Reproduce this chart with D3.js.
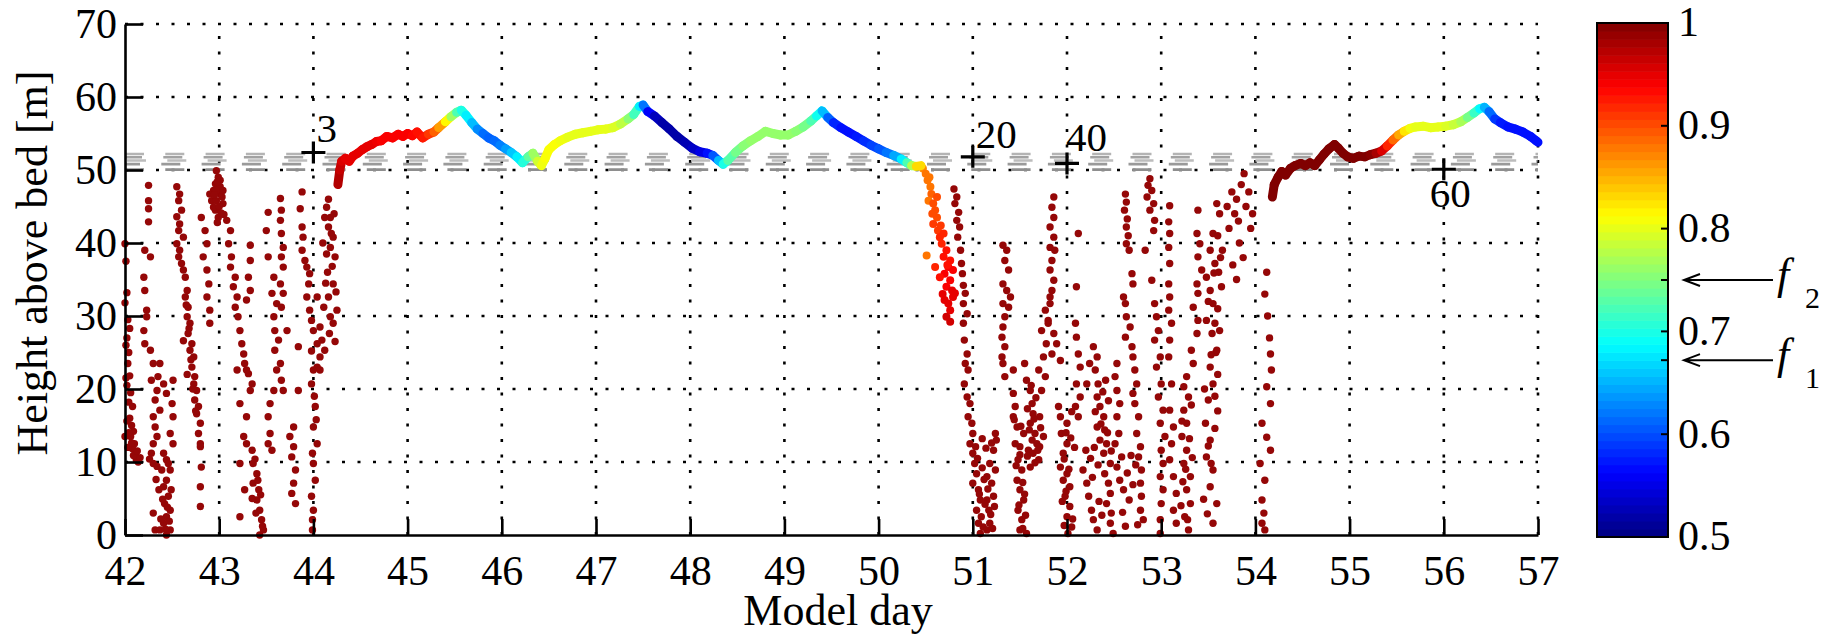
<!DOCTYPE html>
<html>
<head>
<meta charset="utf-8">
<script src="https://cdn.jsdelivr.net/npm/d3@7"></script>
<style>
  body { margin: 0; background: #fff; }
  svg text { font-family: "Liberation Serif", "Times New Roman", serif; fill: #000; }
</style>
</head>
<body>
<svg id="chart" width="1832" height="635"></svg>
<script>
// ---- data ----
var xTicks = d3.range(42, 58);            // model day
var yTicks = d3.range(0, 71, 10);         // height above bed [m]
var cbLabels = [0.5, 0.6, 0.7, 0.8, 0.9, 1];
var cbExtraTicks = [0.6, 0.7, 0.8, 0.9];
var arrowValues = [0.75, 0.672];
var arrowNames = ["2", "1"];

// grey dashed reference levels
var refHeights = [52.2, 51.75, 51.3, 50.8, 50.05];

// labelled positions
var markerDays = [44, 51, 52, 56];
var markerHeights = [52.4, 51.8, 50.9, 50.1];
var markerLabels = ["3", "20", "40", "60"];

// trace near the top: [day, height, value]
var traceA = [
  [44.26,48.0,0.98],[44.28,50.0,0.97],[44.30,51.2,0.96],[44.34,51.6,0.95],[44.38,51.2,0.95],
  [44.42,51.9,0.95],[44.47,52.3,0.95],[44.52,52.8,0.95],[44.57,53.2,0.95],[44.62,53.5,0.95],
  [44.67,53.9,0.95],[44.72,54.0,0.94],[44.78,54.6,0.94],[44.84,54.4,0.94],[44.9,54.9,0.94],
  [44.95,54.6,0.94],[45.0,55.0,0.94],[45.05,54.7,0.94],[45.1,55.2,0.93],[45.16,54.4,0.93],
  [45.22,54.9,0.92],[45.28,55.2,0.9],[45.33,55.8,0.88],[45.4,56.6,0.84],[45.46,57.3,0.79],
  [45.52,57.9,0.74],[45.57,58.2,0.71],[45.62,57.5,0.69],[45.68,56.5,0.67],[45.74,55.6,0.64],
  [45.8,55.0,0.62],[45.86,54.4,0.61],[45.92,54.0,0.61],[45.98,53.4,0.62],[46.04,52.9,0.63],
  [46.1,52.4,0.65],[46.16,51.8,0.67],[46.22,51.0,0.69],[46.28,51.8,0.72],[46.33,52.3,0.75],
  [46.38,51.2,0.78],[46.42,50.6,0.8],[46.46,51.6,0.81],[46.5,52.8,0.81],[46.56,53.5,0.81],
  [46.62,54.0,0.81],[46.7,54.5,0.8],[46.78,54.9,0.8],[46.86,55.1,0.8],[46.94,55.3,0.8],
  [47.02,55.5,0.8],[47.1,55.6,0.8],[47.18,55.8,0.8],[47.26,56.3,0.79],[47.34,57.0,0.77],
  [47.4,57.6,0.74],[47.46,58.7,0.7],[47.5,58.9,0.66],[47.55,58.0,0.58],[47.62,57.4,0.54],
  [47.7,56.5,0.52],[47.78,55.6,0.52],[47.86,54.6,0.52],[47.94,53.8,0.52],[48.02,53.0,0.53],
  [48.1,52.5,0.54],[48.18,52.3,0.56],[48.24,52.0,0.58],[48.3,51.3,0.63],[48.35,50.8,0.68],
  [48.4,51.3,0.72],[48.48,52.4,0.74],[48.56,53.3,0.75],[48.64,54.0,0.76],[48.72,54.6,0.76],
  [48.8,55.3,0.76],[48.88,55.0,0.76],[48.96,54.8,0.76],[49.04,54.8,0.76],[49.12,55.3,0.76],
  [49.2,55.9,0.75],[49.28,56.7,0.74],[49.34,57.4,0.71],[49.4,58.1,0.68],[49.46,57.2,0.63],
  [49.52,56.5,0.59],[49.6,55.8,0.57],[49.68,55.2,0.57],[49.76,54.6,0.57],[49.84,54.0,0.58],
  [49.92,53.4,0.59],[50.0,52.9,0.6],[50.08,52.4,0.61],[50.16,52.0,0.63],[50.24,51.5,0.66],
  [50.3,51.0,0.7],[50.35,50.6,0.75],[50.4,50.5,0.8],[50.45,50.6,0.86]
];
var traceB = [
  [54.18,46.3,1],[54.2,48.0,1],[54.24,49.0,1],[54.28,49.8,1],[54.32,49.3,1],[54.37,50.2,1],
  [54.42,50.6,1],[54.48,50.9,1],[54.53,50.6,1],[54.58,51.0,1],[54.63,50.6,1],[54.68,51.4,1],
  [54.73,52.2,1],[54.78,52.9,1],[54.84,53.5,1],[54.88,53.0,1],[54.93,52.3,1],[54.98,51.8,1],
  [55.04,51.6,1],[55.1,51.9,1],[55.16,51.8,1],[55.22,52.1,1],[55.28,52.3,0.99],[55.34,52.6,0.97],
  [55.4,53.3,0.94],[55.46,54.1,0.9],[55.52,54.8,0.87],[55.58,55.3,0.84],[55.64,55.7,0.81],
  [55.7,55.9,0.8],[55.78,56.0,0.8],[55.86,55.8,0.8],[55.94,55.9,0.8],[56.02,56.0,0.8],
  [56.1,56.2,0.79],[56.18,56.6,0.78],[56.25,57.2,0.76],[56.32,57.8,0.73],[56.38,58.4,0.7],
  [56.43,58.6,0.67],[56.48,58.0,0.63],[56.54,57.0,0.6],[56.6,56.5,0.58],[56.68,55.9,0.57],
  [56.76,55.6,0.57],[56.84,55.2,0.57],[56.92,54.6,0.57],[56.98,54.0,0.57],[57.0,53.8,0.57]
];
// coloured points of the descent after day 50.4: [day, height, value]
var descent = [
  [50.47,50.2,0.87],[50.5,49.5,0.88],[50.52,48.6,0.88],[50.55,47.7,0.88],[50.56,46.7,0.89],
  [50.53,45.8,0.88],[50.58,45.4,0.9],[50.62,46.3,0.9],[50.6,44.5,0.9],[50.62,43.5,0.9],
  [50.58,42.6,0.91],[50.63,41.7,0.91],[50.65,40.8,0.92],[50.69,41.3,0.92],[50.67,39.9,0.92],
  [50.72,39.0,0.93],[50.69,38.1,0.93],[50.76,37.6,0.93],[50.74,36.7,0.94],[50.7,35.8,0.94],
  [50.79,36.3,0.94],[50.76,34.9,0.94],[50.72,34.0,0.94],[50.78,33.5,0.95],[50.79,32.6,0.95],
  [50.7,32.2,0.95],[50.74,31.7,0.95],[50.76,30.8,0.95],[50.72,29.9,0.96],[50.76,29.2,0.96],
  [50.51,38.3,0.88],[50.6,36.7,0.92],[50.65,35.3,0.93],[50.81,33.1,0.95],
  [50.54,49.0,0.88],[50.57,44.0,0.9],[50.66,42.4,0.91],[50.73,37.0,0.93],[50.68,33.0,0.95]
];
// dark red points (value 1): [day, height]
var scatterEarly = [
  [42.0,39.9],[42.01,37.5],[42.02,33.2],[42.0,31.8],[42.03,29.5],[42.02,27.0],[42.04,25.0],[42.03,23.5],[42.05,21.8],[42.02,20.5],[42.06,19.5],[42.04,18.2],[42.08,17.6],[42.05,16.0],[42.07,15.0],[42.09,14.2],[42.06,13.5],[42.1,12.5],[42.08,11.8],[42.11,11.0],[42.12,10.3],[42.14,10.0],[42.0,13.5],[42.01,21.5],[42.03,12.0],
  [42.25,47.9],[42.25,45.8],[42.25,44.7],[42.25,42.9],[42.21,39.0],[42.27,38.1],[42.2,35.3],[42.21,33.5],[42.23,30.8],[42.23,29.9],[42.2,28.0],[42.21,26.2],[42.27,25.3],[42.3,23.5],[42.35,21.7],[42.28,21.2],[42.34,19.8],[42.32,18.5],[42.37,17.1],[42.3,16.2],[42.32,14.8],[42.34,13.5],[42.3,12.5],[42.28,11.2],[42.3,9.8],[42.34,9.4],[42.39,8.9],[42.3,3.0],[42.32,0.7],
  [42.37,23.5],[42.41,20.7],[42.51,21.2],[42.44,19.4],[42.5,18.0],[42.51,16.2],[42.48,13.9],[42.51,12.5],[42.41,11.2],[42.44,10.3],[42.48,8.9],[42.44,7.5],[42.41,6.6],[42.46,5.3],[42.42,4.3],[42.48,3.4],[42.44,2.5],[42.41,1.6],[42.48,0.7],[42.44,0.0],[42.37,0.7],
  [42.55,47.7],[42.58,46.7],[42.57,45.8],[42.6,44.5],[42.55,43.6],[42.58,42.6],[42.57,41.7],[42.62,40.8],[42.55,39.9],[42.58,39.0],[42.57,38.1],[42.6,37.2],[42.62,36.3],[42.64,35.3],[42.66,33.5],[42.64,32.6],[42.67,31.2],[42.66,29.9],[42.69,29.0],[42.67,27.6],[42.71,26.2],[42.69,25.3],[42.73,24.4],[42.71,23.0],[42.74,21.7],[42.73,20.7],[42.76,19.8],[42.74,18.5],[42.78,17.6],[42.76,16.6],[42.8,15.3],[42.78,13.9],[42.8,12.5],
  [42.81,43.5],[42.85,41.7],[42.87,39.9],[42.83,38.1],[42.87,36.3],[42.89,34.4],[42.87,32.6],[42.9,30.8],[42.9,29.0],[42.8,12.1],[42.81,9.3],[42.8,6.6],[42.8,3.9],
  [42.97,49.9],[42.99,49.0],[42.96,48.1],[43.01,48.6],[42.94,47.2],[43.01,46.7],[42.92,45.8],[42.97,45.8],[43.04,45.4],[42.96,44.5],[43.01,47.7],[43.03,46.3],[42.9,46.7],[42.99,43.5],[42.97,47.2],[42.94,44.9],[43.04,47.2],
  [43.08,43.1],[43.12,41.7],[43.1,39.9],[43.13,38.1],[43.12,36.7],[43.17,35.3],[43.15,34.0],[43.19,32.6],[43.17,31.2],[43.2,29.9],[43.22,28.0],[43.24,26.2],[43.26,24.8],[43.27,23.5],[43.31,22.1],[43.35,20.7],[43.33,19.8],[43.29,22.6],[43.19,22.6],
  [43.22,18.0],[43.29,16.2],[43.26,13.5],[43.29,12.5],[43.35,11.6],[43.36,9.8],[43.4,8.4],[43.36,7.1],[43.42,6.2],[43.4,4.8],[43.43,3.4],[43.45,2.1],[43.47,0.7],[43.43,0.0],[43.22,9.8],[43.27,6.2],[43.22,2.5],
  [43.33,39.7],[43.33,37.6],[43.31,35.3],[43.33,33.5],[43.29,32.2],
  [43.52,44.2],[43.5,41.7],[43.52,38.1],[43.58,35.3],[43.56,33.1],[43.61,31.7],[43.58,29.9],[43.59,28.0],[43.63,26.7],[43.59,25.3],[43.65,23.5],[43.61,22.6],[43.66,21.2],[43.68,19.8],[43.58,19.8],[43.54,18.0],[43.52,16.2],[43.54,13.9],[43.52,12.5],[43.56,11.6],
  [43.65,46.1],[43.66,44.5],[43.65,43.1],[43.66,41.3],[43.68,39.4],[43.66,38.1],[43.68,36.7],[43.65,34.4],[43.68,33.1],[43.66,31.2],
  [43.79,14.8],[43.75,13.5],[43.79,12.1],[43.77,10.7],[43.81,8.9],[43.79,7.1],[43.77,5.7],[43.81,4.3],[43.84,25.8],[43.84,19.8],[43.72,28.0],
  [43.88,47.0],[43.86,44.7],[43.88,42.2],[43.89,40.8],[43.88,39.0],[43.91,37.6],[43.93,36.7],[43.96,35.8],[43.95,34.4],[43.93,32.6],[43.96,30.8],[43.98,29.4],[44.0,28.0],[44.04,26.2],[44.07,24.4],[44.0,22.6],[44.04,23.0],[43.98,20.7],[44.02,17.6],[44.0,14.8],[44.04,12.5],[44.0,9.8],[44.02,7.5],[43.98,5.3],[44.0,3.4],[43.99,2.1],[43.99,0.7],
  [44.14,44.9],[44.18,43.5],[44.16,42.2],[44.21,40.8],[44.18,39.4],[44.23,38.1],[44.14,38.5],[44.21,34.4],[44.16,32.6],[44.11,31.2],[44.18,29.9],[44.21,29.0],[44.25,30.8],[44.07,28.5],[44.09,26.7],[44.12,25.3],[44.07,22.6],[44.04,32.6],[44.19,41.3],[44.12,43.5]
];
var scatterLate = [
  [50.8,47.4],[50.83,46.3],[50.81,45.4],[50.85,44.2],[50.83,43.1],[50.86,42.2],[50.84,40.8],[50.87,39.0],[50.88,37.2],[50.89,35.8],[50.9,34.2],[50.92,33.1],[50.9,31.7],[50.94,30.3],[50.9,29.0],[50.91,26.7],[50.94,24.8],[50.92,23.5],[50.95,22.6],[50.91,20.7],[50.94,18.9],[50.97,18.0],[50.95,16.2],[50.99,15.3],[51.0,13.9],[50.97,12.5],[51.0,11.2],[51.02,9.8],[51.04,8.4],[51.0,7.1],[51.06,6.2],[51.08,4.8],[51.04,3.4],[51.09,2.5],[51.11,1.1],[51.08,0.2],[51.15,0.7],[51.18,1.6],[51.17,3.4],[51.22,5.3],[51.2,7.1],[51.15,8.0],[51.24,8.9],[51.18,9.8],[51.22,11.6],[51.25,13.0],[51.24,13.9],[51.15,4.8],
  [51.32,39.7],[51.36,39.0],[51.34,37.6],[51.38,36.3],[51.32,34.4],[51.36,33.5],[51.4,32.6],[51.32,31.7],[51.38,31.2],[51.34,29.9],[51.32,28.5],[51.31,27.1],[51.34,25.8],[51.31,24.4],[51.32,23.5],[51.43,22.6],[51.34,21.7],
  [51.43,19.4],[51.45,17.6],[51.43,16.2],[51.47,14.8],[51.54,13.9],[51.5,12.1],[51.48,10.3],[51.52,8.9],[51.47,7.5],[51.5,6.2],[51.54,4.8],[51.48,3.4],[51.52,2.1],[51.5,0.7],[51.57,0.2],[51.45,12.5],
  [51.55,23.5],[51.57,21.2],[51.61,19.8],[51.63,18.0],[51.64,16.6],[51.61,15.3],[51.66,13.9],[51.63,13.0],[51.68,12.5],[51.59,11.6],[51.64,11.2],[51.7,10.3],[51.61,9.3],[51.71,12.1],[51.75,13.5],[51.71,16.2],[51.73,19.8],[51.77,21.7],[51.7,22.6],[51.75,24.4],[51.78,26.2],[51.73,28.0],[51.8,29.0],[51.77,30.8],[51.82,32.6],
  [51.86,46.3],[51.84,44.9],[51.86,43.5],[51.82,42.2],[51.86,40.8],[51.82,39.4],[51.87,39.0],[51.84,37.6],[51.82,36.3],[51.86,34.9],[51.84,33.5],[51.82,31.7],[51.8,29.4],[51.86,27.6],[51.89,26.2],[51.84,24.8],[51.93,23.9],
  [51.91,17.6],[51.93,16.2],[52.0,15.3],[51.94,13.9],[52.0,12.5],[51.96,11.2],[51.93,9.3],[52.0,8.4],[51.96,7.5],[52.03,6.6],[51.98,5.3],[52.03,3.9],[52.0,2.5],[52.05,1.1],[52.01,0.2],
  [52.1,34.0],[52.12,41.3],[52.09,29.0],[52.1,27.1],[52.12,24.8],[52.14,23.0],[52.1,20.7],[52.14,18.9],[52.09,17.6],[52.12,16.2],
  [52.17,8.9],[52.21,7.1],[52.23,5.3],[52.26,3.4],[52.28,2.1],[52.32,0.7],[52.28,25.8],[52.32,24.4],[52.3,22.6],[52.33,20.7],[52.32,18.9],[52.35,17.6],[52.39,16.2],[52.32,14.8],[52.4,14.4],[52.35,13.0],[52.42,12.5],[52.39,11.2],[52.46,9.8],[52.4,8.4],[52.44,7.1],[52.46,5.7],[52.42,4.3],[52.47,3.0],[52.46,1.6],[52.49,0.2],[52.24,23.5],[52.21,20.7],
  [52.53,23.5],[52.51,21.7],[52.53,19.8],[52.56,18.0],[52.53,16.2],[52.55,13.9],[52.51,12.5],[52.58,10.7],[52.53,9.3],[52.56,7.5],[52.6,6.2],
  [52.62,46.7],[52.63,45.6],[52.61,44.5],[52.64,43.3],[52.63,42.2],[52.65,41.0],[52.63,39.9],[52.66,39.0],[52.69,35.8],[52.7,34.4],[52.6,32.6],[52.62,31.7],[52.63,29.9],[52.67,28.5],[52.62,27.1],[52.69,25.8],[52.7,24.4],[52.72,22.6],[52.74,20.7],[52.7,19.4],[52.72,18.0],[52.76,16.2],[52.74,13.9],[52.78,12.1],[52.76,10.7],[52.79,8.9],[52.78,7.1],[52.79,5.3],[52.78,3.4],[52.81,2.1],
  [52.88,48.8],[52.86,47.9],[52.9,47.2],[52.85,46.3],[52.92,45.4],[52.88,44.5],[52.93,43.1],[52.92,41.7],[52.83,39.0],[52.9,34.9],[52.93,31.7],[52.95,29.9],[52.97,28.0],[52.93,26.7],[52.99,24.4],[52.95,23.0],[53.0,20.7],[52.97,18.9],[53.02,17.1],[52.99,15.3],[53.04,13.5],[53.0,11.6],[53.02,9.8],[52.99,8.0],[53.02,6.2],[53.0,4.3],[52.99,2.1],[52.99,0.2],
  [53.09,45.1],[53.08,42.9],[53.09,41.3],[53.08,39.4],[53.09,37.2],[53.08,34.4],[53.09,32.6],[53.08,30.8],[53.11,29.0],[53.09,26.7],[53.08,24.4],[53.11,20.7],[53.09,17.1],[53.13,14.8],[53.11,12.5],[53.09,10.3],[53.13,8.0],[53.16,5.7],[53.13,3.4],[53.16,1.6],
  [53.39,44.5],[53.38,41.3],[53.41,39.9],[53.39,38.1],[53.43,36.3],[53.38,34.4],[53.39,33.1],[53.34,31.2],[53.39,29.4],[53.38,27.6],[53.32,25.3],[53.34,23.5],[53.27,21.7],[53.24,20.3],[53.29,18.9],[53.24,17.1],[53.27,15.3],[53.22,13.5],[53.27,11.6],[53.24,9.8],[53.31,8.0],[53.27,6.2],[53.31,4.3],[53.25,2.5],[53.29,0.7],
  [53.59,45.4],[53.55,41.3],[53.52,39.0],[53.57,37.2],[53.48,35.3],[53.52,33.5],[53.55,31.7],[53.48,29.4],[53.54,27.6],[53.59,25.3],[53.52,23.0],[53.55,20.7],[53.5,18.5],[53.47,15.3],[53.52,13.0],[53.48,10.7],[53.55,8.9],[53.52,6.6],[53.59,4.3],[53.55,1.6],
  [53.62,44],[53.6,41],[53.63,38],[53.61,36],[53.64,34],[53.6,31],[53.62,28],[53.58,25],[53.6,22],[53.57,19],[53.6,17],[53.65,39],[53.7,45],[53.72,42],[53.75,47],[53.78,44],[53.8,46],[53.82,43],[53.85,48],[53.88,49.5],[53.9,45],[53.93,47],[53.95,42],[53.97,44],[53.83,40],[53.87,38],[53.76,37],[53.8,35],
  [54.12,36],[54.1,33],[54.13,30],[54.15,27],[54.16,24.8],[54.17,22.6],[54.12,20.3],[54.16,18.0],[54.07,15.3],[54.12,13.4],[54.16,11.6],[54.05,9.8],[54.1,7.5],[54.07,4.8],[54.09,3.0],[54.07,1.6],[54.1,0.7]
];
// further points in the densest clusters: [day, height]
var scatterDense = [
  [42.02,15.6],[42.04,14.0],[42.07,12.6],[42.09,10.9],[42.13,11.5],[42.16,10.6],[42.01,26.0],[42.05,28.3],
  [42.26,10.4],[42.33,7.6],[42.36,6.2],[42.4,4.9],[42.45,3.8],[42.47,1.9],[42.43,0.8],[42.38,2.2],[42.49,6.2],[42.46,9.8],
  [42.65,31.5],[42.68,28.3],[42.7,24.0],[42.72,20.0],[42.75,17.0],[42.62,26.6],[42.66,22.0],
  [42.98,48.4],[43.0,45.0],[42.95,46.6],[43.02,44.1],[42.98,42.8],[43.05,43.9],
  [43.38,10.4],[43.41,7.5],[43.44,5.5],[43.46,1.2],[43.39,3.0],[43.35,5.0],
  [43.98,25.2],[44.01,19.0],[44.03,15.8],[43.99,11.2],
  [44.15,36.0],[44.2,36.8],[44.13,34.5],[44.24,33.3],[44.17,27.6],[44.23,26.5],[44.1,40.0],[44.22,44.0],[44.16,46.0],
  [51.05,10.5],[51.1,9.2],[51.12,7.6],[51.07,5.6],[51.13,4.2],[51.19,2.8],[51.21,0.9],[51.1,13.2],[51.14,11.9],[51.2,12.6],[51.16,6.3],[51.23,3.9],[51.03,12.1],[51.06,1.6],
  [51.46,9.5],[51.5,11.0],[51.53,7.2],[51.55,5.6],[51.49,4.1],[51.56,2.7],[51.53,0.9],[51.58,10.8],[51.51,14.9],[51.44,15.8],
  [51.6,14.4],[51.65,15.9],[51.67,18.8],[51.62,20.5],[51.69,11.6],[51.66,9.9],[51.72,14.7],[51.58,17.3],
  [51.95,4.6],[51.99,6.0],[52.02,9.0],[51.97,10.4],[52.04,13.3],[51.99,14.0],[52.06,2.2],[51.97,1.3],[52.08,12.0],[52.05,16.9],
  [52.25,10.5],[52.29,12.0],[52.33,9.6],[52.36,15.2],[52.3,16.9],[52.38,19.6],[52.41,21.2],[52.44,18.4],[52.27,7.9],[52.34,4.6],[52.37,2.7],[52.43,14.0],[52.47,11.5],[52.2,11.6],
  [52.59,3.1],[52.62,1.2],[52.66,4.8],[52.7,6.9],[52.64,8.5],[52.68,10.9],[52.73,9.6],[52.75,1.4],
  [53.21,4.0],[53.23,7.3],[53.26,9.0],[53.3,13.2],[53.32,17.8],[53.28,2.1],[53.33,10.6],[53.22,15.6],
  [53.45,4.9],[53.49,2.9],[53.53,9.8],[53.5,12.2],[53.57,14.6],[53.46,20.0],[53.53,24.7],[53.57,29.0],[53.5,32.0],[53.56,35.9]
];

// ---- drawing ----
var svg = d3.select("#chart");

var x = d3.scaleLinear().domain([42, 57]).range([125, 1538]);
var y = d3.scaleLinear().domain([0, 70]).range([535, 24]);
var cb = d3.scaleLinear().domain([0.5, 1]).range([537, 23]);
var cbLeft = 1597, cbRight = 1668;

// MATLAB jet colormap on the 0.5..1 range
function clamp(v) { return Math.max(0, Math.min(1, v)); }
function jet(v) {
  var t = (v - 0.5) / 0.5;
  return d3.rgb(
    255 * clamp(1.5 - Math.abs(4 * t - 3)),
    255 * clamp(1.5 - Math.abs(4 * t - 2)),
    255 * clamp(1.5 - Math.abs(4 * t - 1))
  ).toString();
}

// dotted grid
var grid = svg.append("g").attr("stroke", "#000").attr("stroke-width", 2.6)
  .attr("stroke-dasharray", "3,12.5");
grid.selectAll("line.h").data(yTicks.filter(function(d) { return d > 0; }))
  .join("line").attr("class", "h")
  .attr("x1", x(42)).attr("x2", x(57))
  .attr("y1", function(d) { return y(d); }).attr("y2", function(d) { return y(d); });
grid.selectAll("line.v").data(xTicks.filter(function(d) { return d > 42; }))
  .join("line").attr("class", "v")
  .attr("x1", function(d) { return x(d); }).attr("x2", function(d) { return x(d); })
  .attr("y1", y(0)).attr("y2", y(70));

// grey dashed reference levels
var refColors = ["#b4b4b4", "#a2a2a2", "#bcbcbc", "#9a9a9a", "#8e8e8e"];
svg.append("g").selectAll("line").data(refHeights).join("line")
  .attr("x1", x(42)).attr("x2", x(57))
  .attr("y1", function(d) { return y(d); }).attr("y2", function(d) { return y(d); })
  .attr("stroke", function(d, i) { return refColors[i]; })
  .attr("stroke-width", 2.6)
  .attr("stroke-dasharray", "19,21.3")
  .attr("stroke-dashoffset", function(d, i) { return [0, 2, -2, 4, 0][i]; });

// dark red scatter
var dots = svg.append("g").attr("fill", "#950707");
dots.selectAll("circle").data(scatterEarly.concat(scatterLate, scatterDense)).join("circle")
  .attr("cx", function(d) { return x(d[0]); })
  .attr("cy", function(d) { return y(d[1]); })
  .attr("r", 3.7);

// coloured descent
svg.append("g").selectAll("circle").data(descent).join("circle")
  .attr("cx", function(d) { return x(d[0]); })
  .attr("cy", function(d) { return y(d[1]); })
  .attr("r", 4)
  .attr("fill", function(d) { return jet(d[2]); });

// coloured traces
function drawTrace(pts) {
  svg.append("g").attr("stroke-width", 9).attr("stroke-linecap", "round")
    .selectAll("line").data(d3.pairs(pts)).join("line")
    .attr("x1", function(p) { return x(p[0][0]); })
    .attr("y1", function(p) { return y(p[0][1]); })
    .attr("x2", function(p) { return x(p[1][0]); })
    .attr("y2", function(p) { return y(p[1][1]); })
    .attr("stroke", function(p) { return jet((p[0][2] + p[1][2]) / 2); });
}
drawTrace(traceA);
drawTrace(traceB);

// + markers with labels
var labelPos = { "3": [3, -10], "20": [3, -9], "40": [-1, -12], "60": [-14, 38] };
var mk = svg.append("g");
markerDays.forEach(function(d, i) {
  var cx = x(d), cy = y(markerHeights[i]);
  mk.append("path").attr("d", "M" + (cx - 12) + "," + cy + "H" + (cx + 12) + "M" + cx + "," + (cy - 11) + "V" + (cy + 11))
    .attr("stroke", "#000").attr("stroke-width", 3.2);
  var p = labelPos[markerLabels[i]];
  mk.append("text").attr("x", cx + p[0]).attr("y", cy + p[1])
    .attr("font-size", 41).text(markerLabels[i]);
});

// axes
var xAxis = d3.axisBottom(x).tickValues(xTicks).tickSizeInner(-16).tickSizeOuter(0).tickPadding(20);
var yAxis = d3.axisLeft(y).tickValues(yTicks).tickSizeInner(-18).tickSizeOuter(0).tickPadding(8);
var gx = svg.append("g").attr("transform", "translate(0," + y(0) + ")").call(xAxis);
var gy = svg.append("g").attr("transform", "translate(" + x(42) + ",0)").call(yAxis);
[gx, gy].forEach(function(g) {
  g.attr("font-family", null).attr("font-size", null);
  g.selectAll("path,line").attr("stroke", "#000").attr("stroke-width", 2.6);
  g.selectAll("text").attr("font-size", 42).attr("fill", "#000");
});

svg.append("text").attr("transform", "translate(47,263) rotate(-90)")
  .attr("text-anchor", "middle").attr("font-size", 44).text("Height above bed [m]");
svg.append("text").attr("x", 838).attr("y", 625)
  .attr("text-anchor", "middle").attr("font-size", 44).text("Model day");

// colorbar
var nLevels = 64;
var cbg = svg.append("g");
cbg.selectAll("rect").data(d3.range(nLevels)).join("rect")
  .attr("x", cbLeft).attr("width", cbRight - cbLeft)
  .attr("y", function(i) { return cb(0.5 + (i + 1) * 0.5 / nLevels); })
  .attr("height", function(i) { return cb(0.5 + i * 0.5 / nLevels) - cb(0.5 + (i + 1) * 0.5 / nLevels) + 0.6; })
  .attr("fill", function(i) { return jet(0.5 + (i + 0.5) * 0.5 / nLevels); });
cbg.append("rect").attr("x", cbLeft).attr("y", cb(1)).attr("width", cbRight - cbLeft)
  .attr("height", cb(0.5) - cb(1)).attr("fill", "none").attr("stroke", "#000").attr("stroke-width", 2);
cbg.selectAll("line.tick").data(cbExtraTicks.concat(arrowValues)).join("line").attr("class", "tick")
  .attr("x1", cbRight - 7).attr("x2", cbRight)
  .attr("y1", function(d) { return cb(d); }).attr("y2", function(d) { return cb(d); })
  .attr("stroke", "#000").attr("stroke-width", 2);
cbg.selectAll("text.lab").data(cbLabels).join("text").attr("class", "lab")
  .attr("x", 1678).attr("y", function(d) { return cb(d); }).attr("dy", "0.32em")
  .attr("font-size", 42).text(function(d) { return String(d); });

// f1 / f2 arrows
arrowValues.forEach(function(v, i) {
  var ay = cb(v);
  cbg.append("path")
    .attr("d", "M1773," + ay + "H1684M1700," + (ay - 6) + "L1684," + ay + "L1700," + (ay + 6))
    .attr("stroke", "#000").attr("stroke-width", 2).attr("fill", "none");
  cbg.append("text").attr("x", 1777).attr("y", ay + 9)
    .attr("font-style", "italic").attr("font-size", 44).text("f");
  cbg.append("text").attr("x", 1805).attr("y", ay + 28).attr("font-size", 30).text(arrowNames[i]);
});
</script>
</body>
</html>
